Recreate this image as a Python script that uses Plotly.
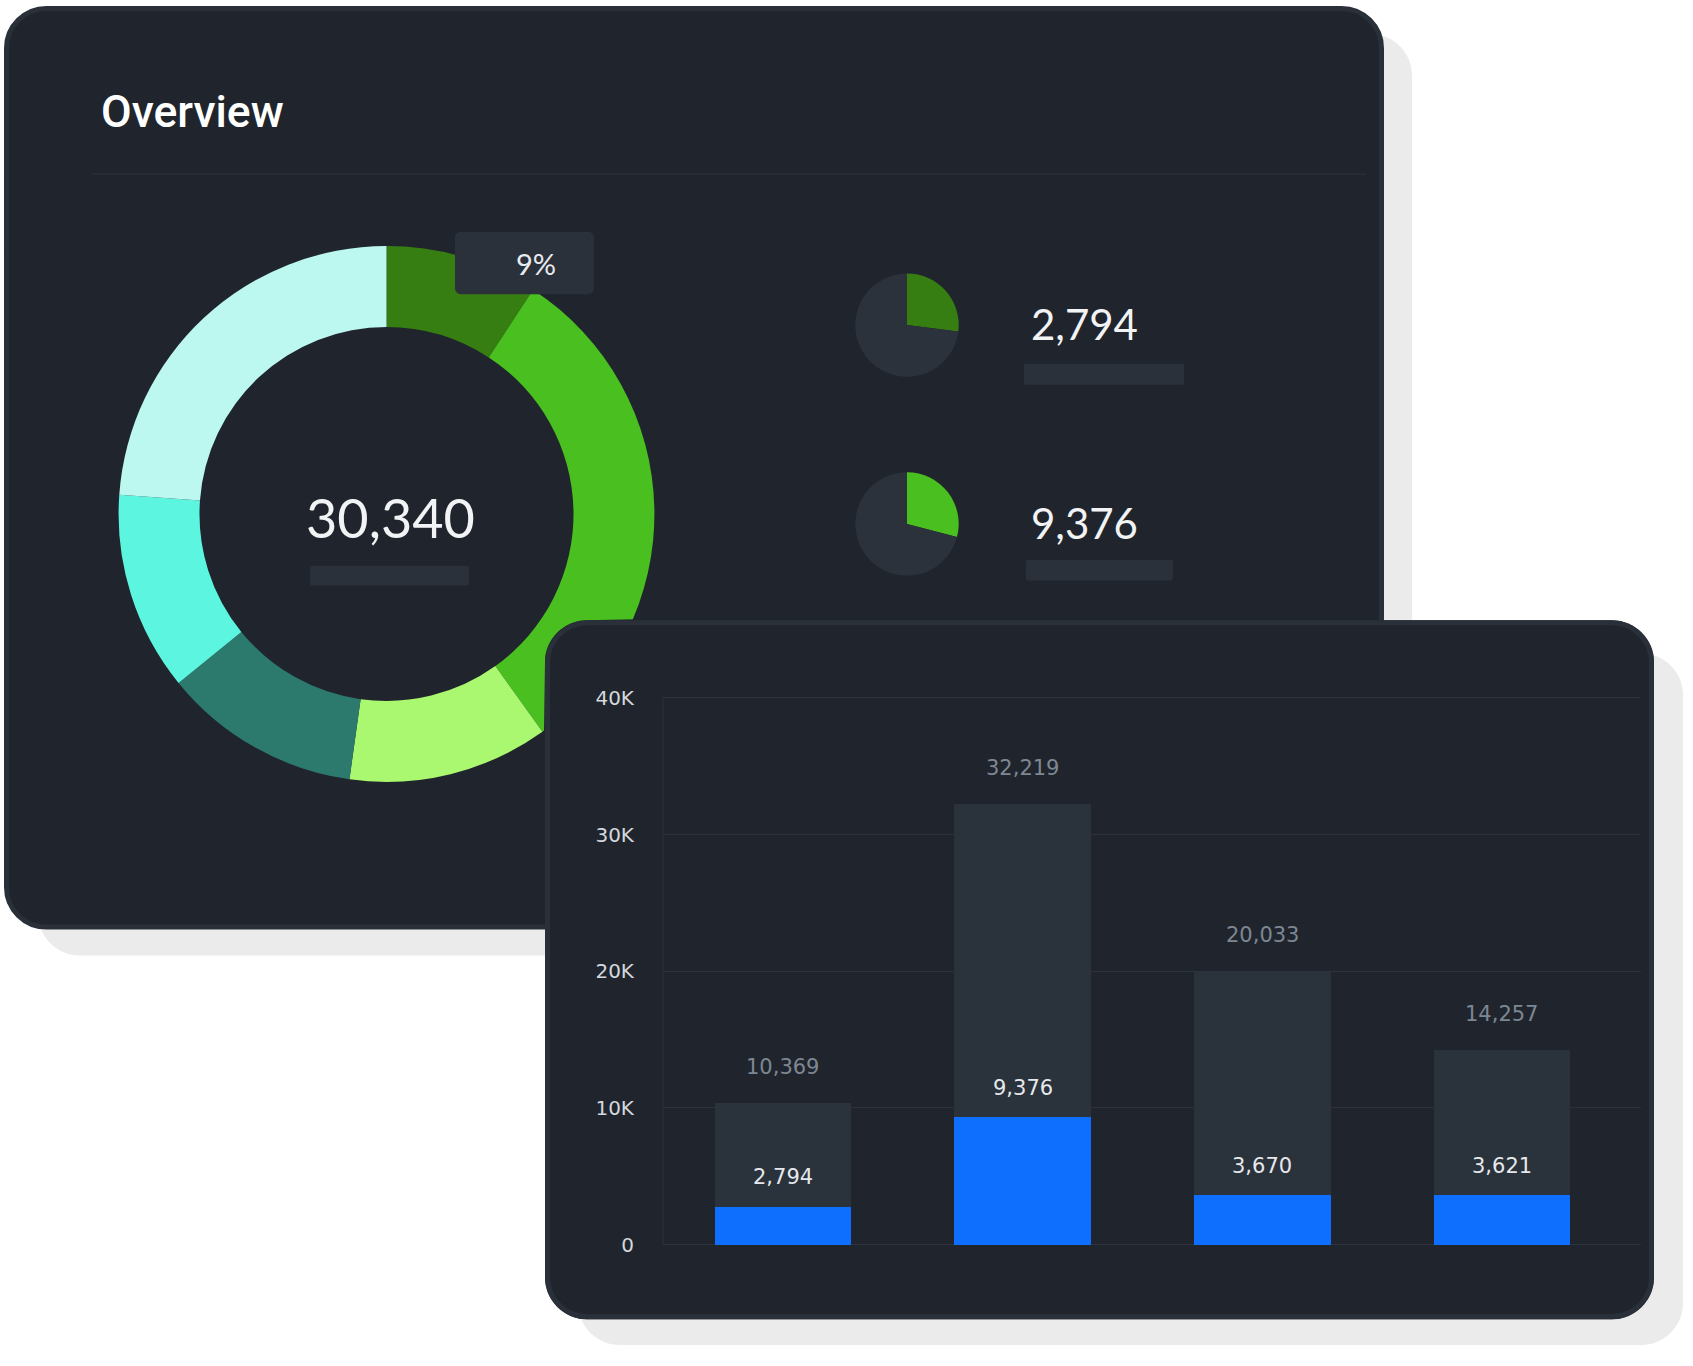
import math
import plotly.graph_objects as go

# ---------------- data ----------------
donut_labels = ["Segment A", "Segment B", "Segment C", "Segment D", "Segment E", "Segment F"]
donut_values = [2794, 9376, 3670, 3621, 3640, 7239]
donut_colors = ["#377e12", "#4abf20", "#a9f86f", "#2c7a6e", "#5cf5df", "#bcf8f0"]

kpi_values = [2794, 9376]
kpi_totals = [10369, 32219]
kpi_colors = ["#377e12", "#4abf20"]

bar_categories = ["A", "B", "C", "D"]
bar_totals = [10369, 32219, 20033, 14257]
bar_values = [2794, 9376, 3670, 3621]
y_tickvals = [0, 10000, 20000, 30000, 40000]
y_ticktext = ["0", "10K", "20K", "30K", "40K"]

# ---------------- layout helpers (pixel -> paper) ----------------
W, H = 1693, 1366


def X(px):
    return px / W


def Y(py):
    return 1 - py / H


K = 0.5523


def rrect_path(x0, y0, x1, y1, r):
    k = r * (1 - K)
    pts = [
        f"M {X(x0 + r)},{Y(y0)}",
        f"L {X(x1 - r)},{Y(y0)}",
        f"C {X(x1 - k)},{Y(y0)} {X(x1)},{Y(y0 + k)} {X(x1)},{Y(y0 + r)}",
        f"L {X(x1)},{Y(y1 - r)}",
        f"C {X(x1)},{Y(y1 - k)} {X(x1 - k)},{Y(y1)} {X(x1 - r)},{Y(y1)}",
        f"L {X(x0 + r)},{Y(y1)}",
        f"C {X(x0 + k)},{Y(y1)} {X(x0)},{Y(y1 - k)} {X(x0)},{Y(y1 - r)}",
        f"L {X(x0)},{Y(y0 + r)}",
        f"C {X(x0)},{Y(y0 + k)} {X(x0 + k)},{Y(y0)} {X(x0 + r)},{Y(y0)}",
        "Z",
    ]
    return " ".join(pts)


CARD = "#20252d"
CARD_EDGE = "#2a3039"
SHADOW = "#ebebeb"
PLACE = "#2a313b"
EDGE_W = 5

shapes = []


def add_rrect(x0, y0, x1, y1, r, fill, line=None, lw=0, layer="below"):
    shapes.append(dict(type="path", xref="paper", yref="paper",
                       path=rrect_path(x0, y0, x1, y1, r),
                       fillcolor=fill, layer=layer,
                       line=dict(color=line or fill, width=lw)))


# shadows & cards
add_rrect(38, 32, 1412, 959, 42, SHADOW)
add_rrect(578, 655, 1683, 1351, 42, SHADOW)
h = EDGE_W / 2
add_rrect(4 + h, 4 + h, 1384 - h, 933 - h, 40, CARD, CARD_EDGE, EDGE_W)
shapes.append(dict(type="line", xref="paper", yref="paper", x0=X(92), x1=X(1366), y0=Y(173), y1=Y(173),
                   line=dict(color="#272c34", width=2), layer="below"))
# skeleton placeholders
for (a, b, c, d) in [(310, 567, 469, 587), (1024, 364, 1184, 385), (1026, 561, 1173, 582)]:
    add_rrect(a, b, c, d, 2, PLACE)
# bottom card
BX0, BY0, BX1, BY1, BR = 545, 622, 1654, 1325, 42
add_rrect(BX0, BY0, BX1, BY1, BR, CARD)
# axis line of bar chart
shapes.append(dict(type="line", xref="paper", yref="paper", x0=X(663), x1=X(663), y0=Y(700), y1=Y(1250),
                   line=dict(color="#2b323b", width=1), layer="below"))

# donut geometry
DCX, DCY, DR = 386.5, 515, 269.5
# patch: part of the bottom card lying over the donut (card sits above the pie)
Rp = DR + 1.5
x_top = DCX + math.sqrt(Rp ** 2 - (BY0 - DCY) ** 2)
y_left = DCY + math.sqrt(Rp ** 2 - (BX0 - DCX) ** 2)
a1 = math.atan2(BY0 - DCY, x_top - DCX)
a2 = math.atan2(y_left - DCY, BX0 - DCX)
seg = [f"M {X(x_top)},{Y(BY0 - 1)}"]
n = 60
for i in range(n + 1):
    a = a1 + (a2 - a1) * i / n
    seg.append(f"L {X(DCX + Rp * math.cos(a))},{Y(DCY + Rp * math.sin(a))}")
kk = BR * (1 - K)
seg.append(f"L {X(BX0 - 1)},{Y(y_left)}")
seg.append(f"L {X(BX0)},{Y(BY0 + BR)}")
seg.append(f"C {X(BX0)},{Y(BY0 + kk)} {X(BX0 + kk)},{Y(BY0)} {X(BX0 + BR)},{Y(BY0)}")
seg.append("Z")
shapes.append(dict(type="path", xref="paper", yref="paper", path=" ".join(seg),
                   fillcolor=CARD, line=dict(width=0), layer="above"))
# bottom card outline
shapes.append(dict(type="path", xref="paper", yref="paper",
                   path=rrect_path(BX0 + h, BY0 + h, BX1 - h, BY1 - h, BR - 2),
                   fillcolor="rgba(0,0,0,0)", line=dict(color=CARD_EDGE, width=EDGE_W), layer="above"))
# 9% tooltip box
shapes.append(dict(type="path", xref="paper", yref="paper", path=rrect_path(455, 231, 594, 294, 6),
                   fillcolor=PLACE, line=dict(width=0), layer="above"))

fig = go.Figure()

# donut
fig.add_trace(go.Pie(
    labels=donut_labels, values=donut_values, hole=0.698, sort=False,
    direction="clockwise", rotation=0, textinfo="none",
    marker=dict(colors=donut_colors, line=dict(width=0)),
    domain=dict(x=[X(DCX - DR), X(DCX + DR)], y=[Y(DCY + DR), Y(DCY - DR)]),
    showlegend=False, hoverinfo="label+value"))

# small KPI pies
kpi_centers = [(907, 325), (907, 525)]
for v, t, c, (cx, cy) in zip(kpi_values, kpi_totals, kpi_colors, kpi_centers):
    r = 52
    fig.add_trace(go.Pie(
        values=[v, t - v], labels=["value", "rest"], sort=False,
        direction="clockwise", rotation=0, textinfo="none",
        marker=dict(colors=[c, "#2b323c"], line=dict(width=0)),
        domain=dict(x=[X(cx - r), X(cx + r)], y=[Y(cy + r), Y(cy - r)]),
        showlegend=False))

# bars
fig.add_trace(go.Bar(x=bar_categories, y=bar_totals, width=0.57,
                     marker=dict(color="#2a323c", line=dict(width=0)), showlegend=False))
fig.add_trace(go.Bar(x=bar_categories, y=bar_values, width=0.57,
                     marker=dict(color="#0e6ffe", line=dict(width=0)), showlegend=False))

annotations = []
NUMFONT = "Lato"
LABFONT = "DejaVu Sans"
annotations.append(dict(xref="paper", yref="paper", x=X(99), y=Y(111), xanchor="left", yanchor="middle",
                        text="Overview", showarrow=False,
                        font=dict(family="Roboto", size=44.5, color="#ffffff", weight=500)))
total = sum(donut_values)
annotations.append(dict(xref="paper", yref="paper", x=X(390), y=Y(519), xanchor="center", yanchor="middle",
                        text=f"{total:,}", showarrow=False,
                        font=dict(family=NUMFONT, size=54, color="#f2f3f5")))
pct = round(100 * donut_values[0] / total)
annotations.append(dict(xref="paper", yref="paper", x=X(536), y=Y(263), xanchor="center", yanchor="middle",
                        text=f"{pct}%", showarrow=False,
                        font=dict(family=NUMFONT, size=29, color="#e8eaed")))
for v, (cx, cy) in zip(kpi_values, kpi_centers):
    annotations.append(dict(xref="paper", yref="paper", x=X(1029), y=Y(cy - 1), xanchor="left", yanchor="middle",
                            text=f"{v:,}", showarrow=False,
                            font=dict(family=NUMFONT, size=42, color="#f2f3f5")))
for c, t, v in zip(bar_categories, bar_totals, bar_values):
    annotations.append(dict(xref="x", yref="y", x=c, y=t, yshift=36, text=f"{t:,}", showarrow=False,
                            font=dict(family=LABFONT, size=21, color="#7d8793")))
    annotations.append(dict(xref="x", yref="y", x=c, y=v, yshift=29, text=f"{v:,}", showarrow=False,
                            font=dict(family=LABFONT, size=21, color="#e6e8eb")))

# y axis: value 0 at 1250 px, 40K at 700 px
ppu = (1250 - 700) / 40000
ytop_px, ybot_px = 690, 1256
yr = [-(ybot_px - 1250) / ppu, 40000 + (700 - ytop_px) / ppu]

fig.update_layout(
    width=W, height=H, margin=dict(l=0, r=0, t=0, b=0),
    paper_bgcolor="#ffffff", plot_bgcolor="rgba(0,0,0,0)",
    barmode="overlay", bargap=0, showlegend=False,
    shapes=shapes, annotations=annotations,
    xaxis=dict(domain=[X(663), X(1641)], range=[-0.5, 3.58], type="category",
               showticklabels=False, showgrid=False, zeroline=False, showline=False, fixedrange=True),
    yaxis=dict(domain=[Y(ybot_px), Y(ytop_px)], range=yr, tickvals=y_tickvals, ticktext=y_ticktext,
               showgrid=True, gridcolor="#2b323b", gridwidth=1, zeroline=False, showline=False,
               ticks="outside", ticklen=24, tickcolor="rgba(0,0,0,0)",
               tickfont=dict(family=LABFONT, size=20, color="#d5d8dc"), fixedrange=True),
)

fig.write_html("out.html")
